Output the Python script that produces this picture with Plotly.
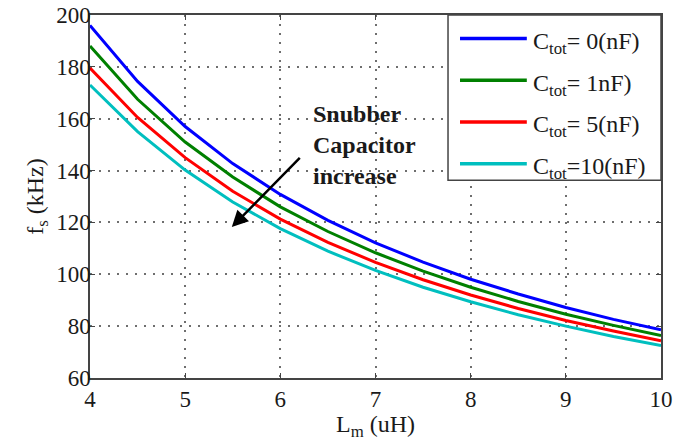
import plotly.graph_objects as go

# Magnetizing inductance (uH)
lm = [4.0, 4.5, 5.0, 5.5, 6.0, 6.5, 7.0, 7.5, 8.0, 8.5, 9.0, 9.5, 10.0]

# Switching frequency (kHz) for each total snubber capacitance
fs_c0 = [196.0, 174.4, 157.0, 142.7, 130.8, 120.8, 112.1, 104.7, 98.1, 92.4, 87.2, 82.6, 78.6]
fs_c1 = [188.0, 167.5, 151.0, 137.5, 126.0, 116.5, 108.3, 101.2, 95.0, 89.5, 84.6, 80.3, 76.4]
fs_c5 = [179.5, 160.5, 145.0, 132.0, 121.3, 112.3, 104.6, 97.9, 92.0, 86.8, 82.2, 78.1, 74.4]
fs_c10 = [173.0, 155.0, 140.2, 127.9, 117.6, 108.9, 101.5, 95.0, 89.4, 84.4, 80.0, 76.0, 72.5]

series_names = ["C<sub>tot</sub>= 0(nF)", "C<sub>tot</sub>= 1nF)",
                "C<sub>tot</sub>= 5(nF)", "C<sub>tot</sub>=10(nF)"]
series_values = [fs_c0, fs_c1, fs_c5, fs_c10]
series_colors = ["#0000ff", "#008000", "#ff0000", "#00bfbf"]

x_ticks = [4, 5, 6, 7, 8, 9, 10]
y_ticks = [60, 80, 100, 120, 140, 160, 180, 200]

FONT = "Liberation Serif"
INK = "#1a1a1a"

fig = go.Figure()
for name, vals, col in zip(series_names, series_values, series_colors):
    fig.add_trace(go.Scatter(x=lm, y=vals, mode="lines", name=name,
                             line=dict(color=col, width=3), showlegend=False))

# Legend box drawn in paper coordinates
shapes = [dict(type="rect", xref="paper", yref="paper", x0=0.627, x1=1.0,
               y0=0.545, y1=1.0, line=dict(color="#444", width=1.5),
               fillcolor="white", layer="above")]
annotations = []
legend_rows = [0.935, 0.82, 0.705, 0.59]
for name, col, yr in zip(series_names, series_colors, legend_rows):
    shapes.append(dict(type="line", xref="paper", yref="paper", x0=0.648, x1=0.765,
                       y0=yr, y1=yr, line=dict(color=col, width=3.5), layer="above"))
    annotations.append(dict(xref="paper", yref="paper", x=0.772, y=yr - 0.012,
                            xanchor="left", yanchor="middle", text=name, showarrow=False,
                            font=dict(family=FONT, size=24, color=INK)))

# Trend arrow and label
annotations.append(dict(x=5.49, y=118.2, ax=6.22, ay=145.5, xref="x", yref="y",
                        axref="x", ayref="y", text="", showarrow=True, arrowhead=2,
                        arrowsize=1.3, arrowwidth=2.5, arrowcolor="black"))
annotations.append(dict(x=6.32, y=150.0, xref="x", yref="y", xanchor="left",
                        yanchor="middle", align="left", showarrow=False,
                        text="<b>Snubber<br>Capacitor<br>increase</b>",
                        font=dict(family=FONT, size=24, color=INK)))

# x-axis title placed just under the tick labels
annotations.append(dict(xref="paper", yref="paper", x=0.5, y=0, xanchor="center",
                        yanchor="top", yshift=-31, showarrow=False,
                        text="L<sub>m</sub> (uH)",
                        font=dict(family=FONT, size=24, color=INK)))

axis_common = dict(showline=True, linecolor="#444", linewidth=1.5, mirror="ticks",
                   ticks="inside", ticklen=5, tickcolor="#444", automargin=False,
                   showgrid=True, gridcolor="#6e6e6e", griddash="2px,7px", gridwidth=1.5,
                   zeroline=False, tickfont=dict(family=FONT, size=23, color=INK))

fig.update_layout(
    width=693, height=441,
    margin=dict(l=90, r=32, t=15, b=63),
    plot_bgcolor="white", paper_bgcolor="white",
    font=dict(family=FONT, color=INK),
    xaxis=dict(range=[4, 10], tickvals=x_ticks, **axis_common),
    yaxis=dict(range=[60, 200], tickvals=y_ticks,
               title=dict(text="f<sub>s</sub> (kHz)", standoff=6,
                          font=dict(family=FONT, size=24, color=INK)),
               ticklabelstandoff=-7, **axis_common),
    shapes=shapes,
    annotations=annotations,
)

fig.write_html("out.html")
